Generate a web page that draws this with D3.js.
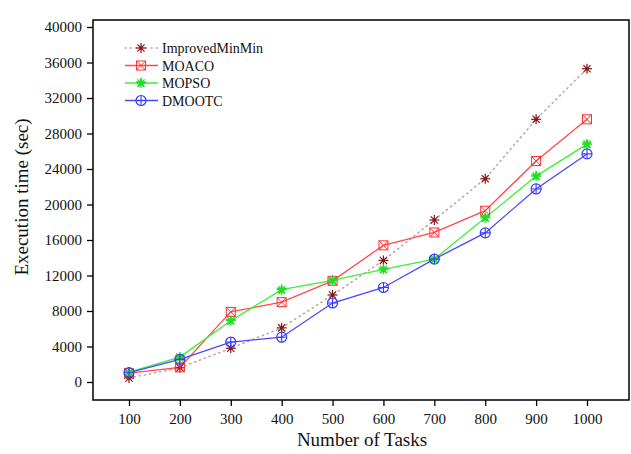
<!DOCTYPE html>
<html lang="en">
<head>
  <meta charset="UTF-8">
  <title>Execution time vs Number of Tasks</title>
  <script src="https://cdn.jsdelivr.net/npm/d3@7/dist/d3.min.js"></script>
  <style>
    body { margin: 0; background: #fff; }
    svg text { font-family: "Liberation Serif", "DejaVu Serif", serif; fill: #111; }
  </style>
</head>
<body>
  <div id="chart"></div>
  <script>
    // data
    const tasks = [100, 200, 300, 400, 500, 600, 700, 800, 900, 1000];
    const improvedMinMin = [450, 1600, 3800, 6100, 9800, 13700, 18250, 22900, 29600, 35300];
    const moaco = [1000, 1650, 7900, 9000, 11400, 15400, 16850, 19300, 24900, 29600];
    const mopso = [1100, 2800, 6900, 10400, 11450, 12700, 13850, 18500, 23200, 26800];
    const dmootc = [1050, 2550, 4500, 5050, 8900, 10650, 13850, 16800, 21750, 25700];
    const yTicks = [0, 4000, 8000, 12000, 16000, 20000, 24000, 28000, 32000, 36000, 40000];

    const series = [
      { name: 'ImprovedMinMin', values: improvedMinMin, color: '#c9a3a3', mark: '#8b1515', dash: '1.2,4', shape: 'asterisk' },
      { name: 'MOACO', values: moaco, color: '#ff4a4a', mark: '#ff3030', dash: null, shape: 'boxx' },
      { name: 'MOPSO', values: mopso, color: '#3cf03c', mark: '#22dd22', dash: null, shape: 'star' },
      { name: 'DMOOTC', values: dmootc, color: '#4848ff', mark: '#3a3aff', dash: null, shape: 'oplus' }
    ];

    const width = 631, height = 454;
    const frame = { left: 93, right: 629, top: 20, bottom: 400 };

    const svg = d3.select('#chart').append('svg')
      .attr('width', width)
      .attr('height', height);

    const x = d3.scaleLinear().domain([100, 1000]).range([129, 587]);
    const y = d3.scaleLinear().domain([0, 40000]).range([382, 27]);

    // frame
    svg.append('rect')
      .attr('x', frame.left).attr('y', frame.top)
      .attr('width', frame.right - frame.left)
      .attr('height', frame.bottom - frame.top)
      .attr('fill', 'none').attr('stroke', '#000').attr('stroke-width', 1.5);

    // axes
    const xAxis = svg.append('g')
      .attr('transform', `translate(0,${frame.bottom})`)
      .call(d3.axisBottom(x).tickValues(tasks).tickFormat(d3.format('d')).tickSize(6).tickPadding(7));
    const yAxis = svg.append('g')
      .attr('transform', `translate(${frame.left},0)`)
      .call(d3.axisLeft(y).tickValues(yTicks).tickFormat(d3.format('d')).tickSize(6).tickPadding(5));
    [xAxis, yAxis].forEach(g => {
      g.select('.domain').remove();
      g.selectAll('.tick line').attr('stroke', '#000').attr('stroke-width', 1.3);
      g.selectAll('.tick text').attr('font-size', '15px')
        .attr('font-family', '"Liberation Serif", serif').attr('fill', '#111');
    });

    // axis titles
    svg.append('text')
      .attr('x', 362).attr('y', 446)
      .attr('text-anchor', 'middle')
      .attr('font-size', '19px')
      .text('Number of Tasks');
    svg.append('text')
      .attr('transform', 'translate(28,197) rotate(-90)')
      .attr('text-anchor', 'middle')
      .attr('font-size', '19px')
      .text('Execution time (sec)');

    // marker drawing
    function drawMarker(g, shape, color) {
      const r = 5;
      if (shape === 'asterisk') {
        [[-r, 0, r, 0], [0, -r, 0, r], [-3.6, -3.6, 3.6, 3.6], [-3.6, 3.6, 3.6, -3.6]].forEach(l => {
          g.append('line').attr('x1', l[0]).attr('y1', l[1]).attr('x2', l[2]).attr('y2', l[3])
            .attr('stroke', color).attr('stroke-width', 1.2);
        });
        g.append('circle').attr('r', 1.8).attr('fill', color);
      } else if (shape === 'boxx') {
        g.append('rect').attr('x', -4.5).attr('y', -4.5).attr('width', 9).attr('height', 9)
          .attr('fill', 'none').attr('stroke', color).attr('stroke-width', 1);
        g.append('path').attr('d', 'M-4.5,-4.5L4.5,4.5M-4.5,4.5L4.5,-4.5')
          .attr('stroke', color).attr('stroke-width', 1);
      } else if (shape === 'star') {
        [[-r, 0, r, 0], [0, -r, 0, r], [-3.6, -3.6, 3.6, 3.6], [-3.6, 3.6, 3.6, -3.6]].forEach(l => {
          g.append('line').attr('x1', l[0]).attr('y1', l[1]).attr('x2', l[2]).attr('y2', l[3])
            .attr('stroke', color).attr('stroke-width', 1.3);
        });
        g.append('path').attr('d', d3.symbol(d3.symbolStar, 40)()).attr('fill', color);
      } else {
        g.append('circle').attr('r', r).attr('fill', 'none')
          .attr('stroke', color).attr('stroke-width', 1.2);
        g.append('path').attr('d', `M${-r},0L${r},0M0,${-r}L0,${r}`)
          .attr('stroke', color).attr('stroke-width', 1.1);
      }
    }

    const line = d3.line()
      .x((d, i) => x(tasks[i]))
      .y(d => y(d));

    series.forEach(s => {
      svg.append('path')
        .datum(s.values)
        .attr('d', line)
        .attr('fill', 'none')
        .attr('stroke', s.color)
        .attr('stroke-width', s.dash ? 1.6 : 1.3)
        .attr('stroke-linecap', s.dash ? 'round' : 'butt')
        .attr('stroke-dasharray', s.dash);
    });
    series.forEach(s => {
      s.values.forEach((v, i) => {
        const g = svg.append('g').attr('transform', `translate(${x(tasks[i])},${y(v)})`);
        drawMarker(g, s.shape, s.mark);
      });
    });

    // legend
    const legend = svg.append('g').attr('transform', 'translate(125,48)');
    series.forEach((s, i) => {
      const row = legend.append('g').attr('transform', `translate(0,${i * 17.5})`);
      row.append('line').attr('x1', 0).attr('x2', 33).attr('y1', 0).attr('y2', 0)
        .attr('stroke', s.color).attr('stroke-width', s.dash ? 1.6 : 1.3)
        .attr('stroke-linecap', s.dash ? 'round' : 'butt')
        .attr('stroke-dasharray', s.dash);
      drawMarker(row.append('g').attr('transform', 'translate(16,0)'), s.shape, s.mark);
      row.append('text').attr('x', 37).attr('y', 5)
        .attr('font-size', '14px')
        .text(s.name);
    });
  </script>
</body>
</html>
